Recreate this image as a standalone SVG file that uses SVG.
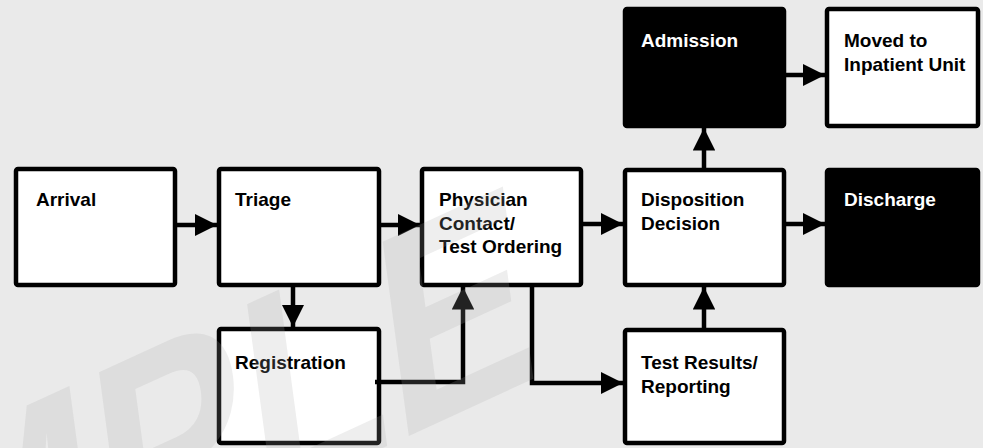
<svg xmlns="http://www.w3.org/2000/svg" width="983" height="448" viewBox="0 0 983 448">
<defs>
<marker id="ah" viewBox="0 0 10 10" refX="10" refY="5" markerWidth="5" markerHeight="5" markerUnits="strokeWidth" orient="auto">
<path d="M0,0 L10,5 L0,10 z" fill="#000"/>
</marker>
<style>
.box{fill:#fff;stroke:#000;stroke-width:4.5}
.dark{fill:#000;stroke:#000;stroke-width:4.5}
.t{font-family:"Liberation Sans",Arial,sans-serif;font-weight:bold;font-size:19px;fill:#000}
.tw{font-family:"Liberation Sans",Arial,sans-serif;font-weight:bold;font-size:19px;fill:#fff}
.c{fill:none;stroke:#000;stroke-width:4.5;marker-end:url(#ah)}
</style>
</defs>
<rect width="983" height="448" fill="#eaeaea"/>
<g id="arrival"><rect class="box" x="16" y="169" width="159" height="116" rx="2"/><text class="t" x="36" y="206">Arrival</text></g>
<g id="triage"><rect class="box" x="219" y="169" width="160" height="116" rx="2"/><text class="t" x="235" y="206">Triage</text></g>
<g id="registration"><rect class="box" x="219" y="329" width="160" height="114" rx="2"/><text class="t" x="235" y="369">Registration</text></g>
<g id="physician"><rect class="box" x="422" y="169" width="159" height="116" rx="2"/><text class="t" x="439" y="206">Physician</text><text class="t" x="439" y="230">Contact/</text><text class="t" x="439" y="253">Test Ordering</text></g>
<g id="disposition"><rect class="box" x="625" y="170" width="159" height="115" rx="2"/><text class="t" x="641" y="206">Disposition</text><text class="t" x="641" y="230">Decision</text></g>
<g id="testresults"><rect class="box" x="625" y="330" width="159" height="113" rx="2"/><text class="t" x="641" y="369">Test Results/</text><text class="t" x="641" y="393">Reporting</text></g>
<g id="admission"><rect class="dark" x="625" y="9" width="159" height="117" rx="2"/><text class="tw" x="641" y="47">Admission</text></g>
<g id="moved"><rect class="box" x="827" y="9" width="151" height="117" rx="2"/><text class="t" x="844" y="47">Moved to</text><text class="t" x="844" y="71">Inpatient Unit</text></g>
<g id="discharge"><rect class="dark" x="827" y="170" width="151" height="115" rx="2"/><text class="tw" x="844" y="206">Discharge</text></g>
<g id="connectors">
<path class="c" d="M177,225 H217"/>
<path class="c" d="M381,225 H420"/>
<path class="c" d="M583,224 H623"/>
<path class="c" d="M786,224 H825"/>
<path class="c" d="M786,75 H825"/>
<path class="c" d="M704,168 V128"/>
<path class="c" d="M704,328 V287"/>
<path class="c" d="M293,287 V327"/>
<path class="c" d="M375,382 H463 V287"/>
<path class="c" d="M532,287 V383 H623"/>
</g>
<text x="-383" y="0" transform="translate(0,624) skewY(-24.7) scale(1,1.35) skewX(9.7)" font-family="Liberation Sans, Arial, sans-serif" font-weight="bold" font-size="222" fill="#acacac" fill-opacity="0.2">SAMPLE</text>
</svg>
